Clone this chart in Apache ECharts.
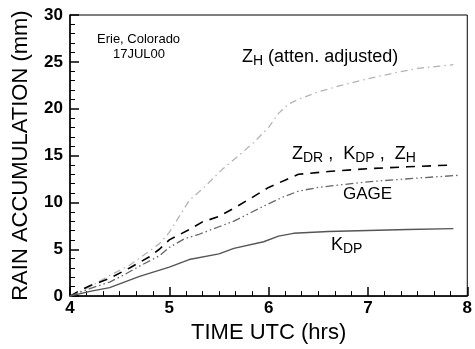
<!DOCTYPE html>
<html>
<head>
<meta charset="utf-8">
<script src="https://cdn.jsdelivr.net/npm/echarts@6/dist/echarts.min.js"></script>
<style>
  html, body { margin: 0; padding: 0; background: #fff; }
  #chart { width: 475px; height: 349px; }
</style>
</head>
<body>
<div id="chart"></div>
<script>
// time (hrs UTC) and accumulation (mm)
const zhAttenTime = [4.0, 4.2, 4.4, 4.6, 4.8, 4.9, 5.0, 5.1, 5.2, 5.35, 5.53, 5.7, 5.85, 6.0, 6.1, 6.2, 6.3, 6.5, 6.7, 7.0, 7.3, 7.5, 7.86]
const zhAttenVals = [0, 1.0, 2.2, 3.3, 4.8, 5.6, 6.8, 8.5, 10.2, 11.6, 13.5, 15.0, 16.4, 18.0, 19.5, 20.5, 21.0, 21.8, 22.4, 23.2, 23.9, 24.3, 24.7]

const zdrTime = [4.0, 4.1, 4.2, 4.4, 4.6, 4.8, 4.9, 5.0, 5.2, 5.33, 5.5, 5.67, 5.83, 6.0, 6.17, 6.3, 6.6, 7.0, 7.4, 7.86]
const zdrVals = [0, 0.6, 1.1, 1.9, 3.0, 4.2, 5.0, 6.0, 7.1, 7.9, 8.5, 9.5, 10.5, 11.6, 12.4, 13.0, 13.3, 13.6, 13.8, 14.0]

const gageTime = [4.0, 4.2, 4.4, 4.55, 4.7, 4.9, 5.0, 5.15, 5.3, 5.5, 5.65, 5.95, 6.15, 6.3, 6.5, 7.0, 7.5, 7.93]
const gageVals = [0, 0.8, 1.5, 2.3, 3.2, 4.3, 5.2, 6.1, 6.6, 7.4, 8.0, 9.6, 10.6, 11.2, 11.6, 12.2, 12.6, 12.9]

const kdpTime = [4.0, 4.2, 4.4, 4.5, 4.7, 5.0, 5.2, 5.5, 5.65, 5.95, 6.1, 6.25, 6.6, 7.0, 7.4, 7.86]
const kdpVals = [0, 0.5, 0.9, 1.3, 2.1, 3.1, 3.9, 4.5, 5.1, 5.8, 6.4, 6.7, 6.9, 7.0, 7.1, 7.2]

const xTicks = [4, 5, 6, 7, 8]
const yTicks = [0, 5, 10, 15, 20, 25, 30]

function pairs(t, v) {
  return t.map((x, i) => [x, v[i]])
}

const chart = echarts.init(document.getElementById('chart'))

const font = 'Liberation Sans, Arial, sans-serif'
const sub = { fontSize: 14, padding: [9, 0, 0, 0] }
const main = { fontSize: 18 }

chart.setOption({
  animation: false,
  textStyle: { fontFamily: font },
  grid: {
    left: 70, right: 4, top: 15, bottom: 52,
    show: true, borderColor: '#000', borderWidth: 1
  },
  xAxis: {
    type: 'value',
    min: xTicks[0], max: xTicks[xTicks.length - 1], interval: 1,
    name: 'TIME UTC (hrs)',
    nameLocation: 'middle',
    nameGap: 25,
    nameTextStyle: { fontSize: 22, color: '#000' },
    axisLine: { lineStyle: { color: '#000', width: 1.5 } },
    axisTick: { inside: true, length: 9, lineStyle: { color: '#000', width: 1.5 } },
    minorTick: { show: true, splitNumber: 6, length: 5, lineStyle: { color: '#000' } },
    axisLabel: { fontSize: 17, fontWeight: 'bold', color: '#000', margin: 4 },
    splitLine: { show: false }
  },
  yAxis: {
    type: 'value',
    min: yTicks[0], max: yTicks[yTicks.length - 1], interval: 5,
    name: 'RAIN ACCUMULATION (mm)',
    nameLocation: 'middle',
    nameGap: 38,
    nameTextStyle: { fontSize: 22, color: '#000' },
    axisLine: { lineStyle: { color: '#000', width: 1.5 } },
    axisTick: { inside: true, length: 9, lineStyle: { color: '#000', width: 1.5 } },
    minorTick: { show: true, splitNumber: 5, length: 5, lineStyle: { color: '#000' } },
    axisLabel: { fontSize: 17, fontWeight: 'bold', color: '#000', margin: 7 },
    splitLine: { show: false }
  },
  series: [
    {
      name: 'ZH atten', type: 'line', symbol: 'none',
      data: pairs(zhAttenTime, zhAttenVals),
      lineStyle: { color: '#b4b4b4', width: 1.3, type: [7, 4, 1.5, 4] }
    },
    {
      name: 'ZDR KDP ZH', type: 'line', symbol: 'none',
      data: pairs(zdrTime, zdrVals),
      lineStyle: { color: '#000', width: 1.6, type: [9, 7] }
    },
    {
      name: 'GAGE', type: 'line', symbol: 'none',
      data: pairs(gageTime, gageVals),
      lineStyle: { color: '#666', width: 1.3, type: [8, 3, 1.5, 3, 1.5, 3] }
    },
    {
      name: 'KDP', type: 'line', symbol: 'none',
      data: pairs(kdpTime, kdpVals),
      lineStyle: { color: '#555', width: 1.4 }
    }
  ],
  graphic: [
    { type: 'text', left: 97, top: 33, style: { text: 'Erie, Colorado', fontSize: 13, fill: '#000', fontFamily: font } },
    { type: 'text', left: 113, top: 48, style: { text: '17JUL00', fontSize: 13, fill: '#000', fontFamily: font } },
    {
      type: 'text', left: 242, top: 48,
      style: {
        text: '{m|Z}{s|H}{m| (atten. adjusted)}',
        fill: '#000', fontFamily: font,
        rich: { m: main, s: sub }
      }
    },
    {
      type: 'text', left: 292, top: 145,
      style: {
        text: '{m|Z}{s|DR}{m| ,  K}{s|DP}{m| ,  Z}{s|H}',
        fill: '#000', fontFamily: font,
        rich: { m: main, s: sub }
      }
    },
    { type: 'text', left: 343, top: 186, style: { text: 'GAGE', fontSize: 17, fill: '#000', fontFamily: font } },
    {
      type: 'text', left: 331, top: 236,
      style: {
        text: '{m|K}{s|DP}',
        fill: '#000', fontFamily: font,
        rich: { m: main, s: sub }
      }
    }
  ]
})
</script>
</body>
</html>
